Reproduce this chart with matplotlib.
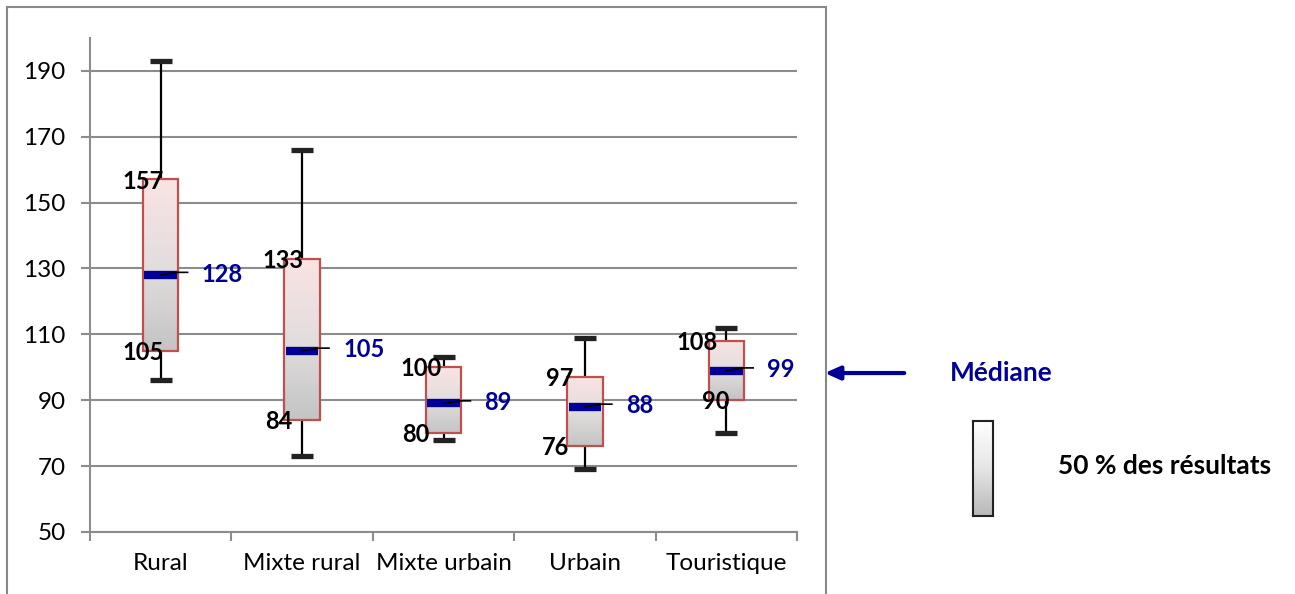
import numpy as np
import matplotlib
matplotlib.use('Agg')
import matplotlib.pyplot as plt
from matplotlib.patches import Rectangle
from matplotlib.colors import LinearSegmentedColormap

plt.rcParams['font.family'] = ['Lato', 'DejaVu Sans']

# donnees
categories = ['Rural', 'Mixte rural', 'Mixte urbain', 'Urbain', 'Touristique']
whisk_hi = [193, 166, 103, 109, 112]
q3 = [157, 133, 100, 97, 108]
median = [128, 105, 89, 88, 99]
q1 = [105, 84, 80, 76, 90]
whisk_lo = [96, 73, 78, 69, 80]
yticks = [50, 70, 90, 110, 130, 150, 170, 190]

GRID = '#8c8c8c'
NAVY = '#000099'
EDGE = '#c0504d'
W = 0.25

box_cmap = LinearSegmentedColormap.from_list('box', ['#c4c4c4', '#e2dede', '#fbe3e3'])
leg_cmap = LinearSegmentedColormap.from_list('leg', ['#b8b8b8', '#e6e6e6', '#ffffff'])
grad = np.linspace(0, 1, 256).reshape(-1, 1)

fig = plt.figure(figsize=(12.95, 5.94), dpi=100)
ax = fig.add_axes([0.0695, 0.1044, 0.546, 0.832])

# decalages des etiquettes (en unites d'axe x)
dx_q3 = [0.02, 0.01, -0.01, -0.08, -0.06]
dx_q1 = [0.02, -0.07, -0.10, -0.11, 0.02]

for i, cat in enumerate(categories):
    x = i
    # moustaches
    ax.plot([x, x], [q3[i], whisk_hi[i]], color='black', lw=1.6, zorder=2)
    ax.plot([x, x], [q1[i], whisk_lo[i]], color='black', lw=1.6, zorder=2)
    for v in (whisk_hi[i], whisk_lo[i]):
        ax.plot([x - 0.078, x + 0.078], [v, v], color='#222222', lw=3.8,
                solid_capstyle='butt', zorder=2)
    # boite en degrade
    ax.imshow(grad, extent=(x - W / 2, x + W / 2, q1[i], q3[i]), origin='lower',
              cmap=box_cmap, aspect='auto', zorder=3)
    ax.add_patch(Rectangle((x - W / 2, q1[i]), W, q3[i] - q1[i], fill=False,
                           edgecolor=EDGE, lw=1.6, zorder=4))
    # mediane
    ax.plot([x - W / 2 + 0.01, x + W / 2 - 0.01], [median[i], median[i]],
            color=NAVY, lw=6, solid_capstyle='butt', zorder=5)
    ax.plot([x, x + 0.12, x + 0.19], [median[i], median[i] + 0.8, median[i] + 0.8],
            color='black', lw=1.2, zorder=6)
    ax.text(x + 0.29, median[i] + 0.3, str(median[i]), color=NAVY, fontsize=17,
            fontweight='bold', ha='left', va='center', zorder=7)
    ax.text(x + dx_q3[i], q3[i] - 0.5, str(q3[i]), color='black', fontsize=17,
            fontweight='bold', ha='right', va='center', zorder=7)
    ax.text(x + dx_q1[i], q1[i] - 0.5, str(q1[i]), color='black', fontsize=17,
            fontweight='bold', ha='right', va='center', zorder=7)

ax.set_xlim(-0.5, len(categories) - 0.5)
ax.set_ylim(50, 200)
ax.set_yticks(yticks)
ax.tick_params(axis='y', labelsize=17.5, length=6.5, width=1.5, color=GRID, pad=11)
ax.set_xticks(np.arange(len(categories) + 1) - 0.5)
ax.set_xticklabels([])
ax.tick_params(axis='x', which='major', length=6.5, width=1.5, color=GRID)
ax.set_xticks(np.arange(len(categories)), minor=True)
ax.set_xticklabels(categories, minor=True, fontsize=17.5)
ax.tick_params(axis='x', which='minor', length=0, pad=15)
ax.grid(axis='y', color=GRID, lw=1.5, zorder=0)
ax.set_axisbelow(True)
for s in ('top', 'right'):
    ax.spines[s].set_visible(False)
for s in ('left', 'bottom'):
    ax.spines[s].set_color(GRID)
    ax.spines[s].set_linewidth(1.5)

# cadre exterieur
fig.patches.append(Rectangle((0.0054, -0.01), 0.6324, 0.998, transform=fig.transFigure,
                             fill=False, edgecolor='#888888', lw=1.5))

# legende : mediane
ax.annotate('', xy=(0.6347, 0.372), xytext=(0.7004, 0.372), xycoords='figure fraction',
            textcoords='figure fraction',
            arrowprops=dict(arrowstyle='-|>,head_length=0.9,head_width=0.4',
                            color=NAVY, lw=3))
fig.text(0.7336, 0.372, 'Médiane', color=NAVY, fontsize=19, fontweight='bold',
         ha='left', va='center')

# legende : 50 % des resultats
lax = fig.add_axes([0.7514, 0.1313, 0.0154, 0.16])
lax.imshow(grad, origin='lower', cmap=leg_cmap, aspect='auto', extent=(0, 1, 0, 1))
lax.set_xticks([])
lax.set_yticks([])
for s in lax.spines.values():
    s.set_color('#222222')
    s.set_linewidth(1.5)
fig.text(0.817, 0.2155, '50 % des résultats', color='black', fontsize=19,
         fontweight='bold', ha='left', va='center')

fig.savefig('out.png', dpi=100)
